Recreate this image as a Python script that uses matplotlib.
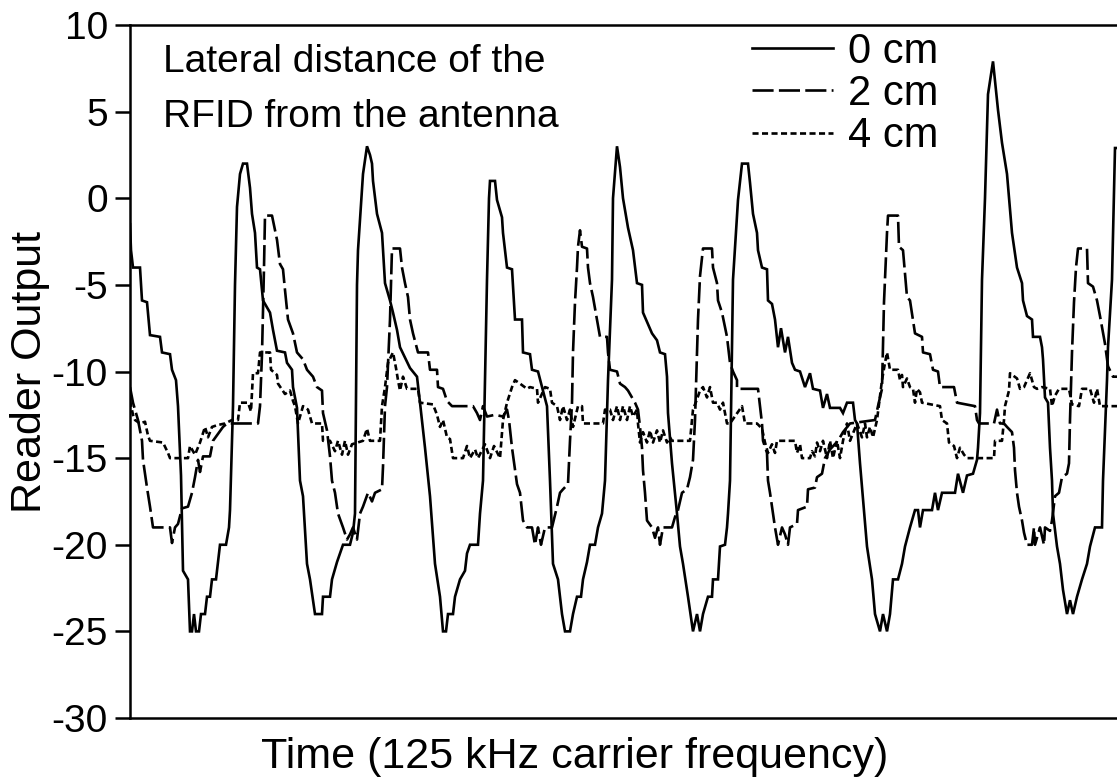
import matplotlib
matplotlib.use("Agg")
import matplotlib.pyplot as plt

plt.rcParams['font.family'] = ['Liberation Sans', 'DejaVu Sans']

# ---- data (time in samples, reader output) ----
cm0 = [(0,-1.5),(1,-3),(3,-4),(10,-4),(12,-5.9),(17,-6),(20,-7.9),(30,-8),(32,-8.9),(40,-9),(42,-9.9),(46,-10.5),(48,-12),(51,-16),(53,-21.5),(58,-22),(60,-25),(62,-25),(64,-24),(66,-25),(69,-25),(71,-24),(75,-24),(77,-23),(80,-23),(82,-22),(86,-22),(88,-21),(90,-20),(96,-20),(99,-19),(100,-18),(103,-12),(105,-5),(107,-0.5),(110,1.4),(113,2),(117,2),(120,0.6),(122,-0.9),(125,-2),(127,-4),(130,-4.1),(133,-5.9),(140,-6.6),(143,-7.6),(147,-8.8),(155,-8.9),(157,-9.5),(162,-9.9),(163,-10.9),(167,-12.1),(170,-16.3),(173,-17.2),(177,-21.1),(180,-22),(185,-24),(192,-24),(193,-23),(200,-23),(202,-22),(207,-21),(213,-20),(220,-20),(223,-19.3),(225,-18.2),(227,-5),(228,-3),(233,1.4),(237,3),(240,2.5),(242,2),(243,1),(247,-0.9),(252,-2),(255,-4.9),(260,-5.9),(263,-6.6),(267,-7.6),(270,-8.6),(275,-9.2),(280,-9.8),(287,-10.3),(290,-11.8),(295,-14.4),(300,-17.2),(305,-21.1),(310,-23),(313,-25),(316,-25),(318,-24),(323,-24),(325,-23),(330,-22),(335,-21.5),(337,-20.5),(340,-20),(348,-20),(350,-18.2),(353,-16.3),(357,-4.7),(359,0),(360,1),(365,1),(367,-0.1),(372,-1.1),(373,-2),(377,-4),(382,-4.1),(385,-7),(392,-7),(393,-8.9),(400,-9),(402,-9.9),(408,-10),(412,-10.9),(417,-12),(420,-16.3),(423,-21.1),(428,-22),(432,-24),(435,-25),(440,-25),(443,-24),(447,-23),(451,-23),(453,-22),(457,-21),(460,-20),(465,-20),(468,-19),(472,-18.2),(475,-16.3),(478,-10.5),(482,-4.7),(483,0),(487,3),(490,1.8),(493,0),(498,-1.7),(503,-3),(507,-4.9),(512,-5),(513,-6.6),(522,-7.8),(527,-8.2),(530,-8.9),(535,-9),(537,-10.3),(538,-12.4),(542,-15.3),(547,-18.2),(550,-20.1),(553,-21.1),(558,-23),(563,-25),(567,-24),(570,-25),(573,-24),(578,-23),(582,-23),(583,-22),(588,-22),(590,-20.1),(595,-20),(597,-19),(598,-18.2),(600,-16.3),(603,-4.7),(608,-0.1),(612,2),(618,2),(620,0.9),(623,-0.9),(627,-2),(628,-3),(632,-4),(637,-4.1),(638,-5.9),(642,-6.1),(645,-7),(648,-8.6),(651,-7.5),(655,-8.9),(658,-8),(662,-9.5),(665,-9.9),(670,-10),(675,-10.9),(680,-10.1),(683,-11),(690,-11.1),(693,-12.1),(697,-11.3),(700,-12.1),(710,-12.1),(713,-12.4),(717,-11.8),(723,-11.8),(725,-12.8),(727,-13),(730,-15.3),(737,-20.1),(742,-22),(745,-24),(750,-25),(753,-24),(757,-25),(760,-24),(763,-22),(768,-22),(772,-21.1),(775,-20.1),(780,-19),(785,-18),(788,-18),(790,-19),(793,-18),(802,-18),(805,-17),(808,-18),(812,-17),(825,-17),(828,-15.9),(833,-17),(837,-16),(843,-15.9),(847,-15.1),(848,-14.4),(850,-12.4),(852,-4.7),(855,0),(858,6),(863,7.9),(868,5.1),(872,3.2),(877,1.4),(882,-2),(887,-4),(892,-4.9),(893,-5.9),(897,-6.8),(902,-7),(903,-8),(910,-8),(912,-8.6),(913,-9.3),(915,-11.5),(918,-11.8),(920,-14.4),(922,-16.3),(923,-18.2),(927,-20.1),(930,-21.1),(933,-22.6),(937,-24),(940,-23.2),(943,-24),(947,-23),(952,-22),(957,-21.1),(960,-20.1),(965,-19),(972,-19),(973,-16.3),(977,-10.5),(978,-8.6),(982,-4.7),(985,2.9),(987,2.9)]

cm2 = [(0,-10.9),(3,-11.8),(8,-12.8),(12,-14),(13,-15.1),(17,-16.7),(20,-17.8),(23,-19),(40,-19),(42,-19.9),(45,-19),(48,-18.8),(52,-17.9),(58,-17.8),(62,-17),(65,-16.1),(68,-15.1),(70,-15.8),(73,-14.9),(80,-14.9),(83,-14),(88,-13.6),(93,-13.2),(97,-13),(128,-13),(130,-12),(132,-9),(134,-4),(135,-1),(142,-1),(147,-2.4),(150,-3.8),(153,-4.1),(155,-5.3),(158,-7),(163,-7.8),(167,-8.9),(173,-9.3),(177,-9.9),(183,-10.3),(187,-10.9),(192,-11.1),(193,-12.4),(197,-13.4),(200,-14.9),(202,-16.3),(205,-17),(208,-18.2),(213,-19),(217,-19.7),(220,-19.4),(223,-19),(227,-19.7),(230,-18.2),(233,-17.8),(238,-17),(242,-17.5),(245,-17),(252,-16.8),(253,-15.5),(255,-12),(257,-10.9),(260,-7),(262,-2.9),(270,-2.9),(272,-4),(275,-4.9),(278,-5.7),(280,-7),(283,-7.8),(288,-8.9),(298,-8.9),(300,-9.9),(307,-9.9),(308,-10.9),(313,-11),(317,-11.7),(322,-12),(343,-12),(347,-12.4),(350,-12.8),(353,-12),(357,-12.6),(365,-12.5),(373,-12.6),(377,-12.2),(379,-12.8),(382,-14.4),(387,-16.5),(390,-17),(393,-18.6),(397,-19),(402,-19),(405,-20),(408,-19),(411,-20),(415,-19),(422,-19),(427,-17.8),(430,-17),(433,-16.8),(438,-16.5),(440,-14),(442,-11.8),(443,-8.9),(445,-6),(447,-4),(448,-2.8),(450,-1.85),(452,-2.8),(457,-2.9),(458,-4),(460,-4.9),(463,-5.7),(467,-7),(470,-8),(477,-8),(478,-8.9),(480,-9.9),(487,-10),(490,-10.7),(495,-10.9),(498,-11.1),(502,-11.5),(505,-11.8),(508,-12.2),(510,-13.2),(512,-14.4),(513,-15.7),(515,-17),(517,-18.6),(522,-19),(525,-19.6),(528,-19),(530,-20),(533,-19),(542,-19),(545,-18.4),(548,-18),(552,-17),(557,-16.8),(560,-16.1),(563,-15.1),(565,-12.8),(567,-8.9),(568,-7),(570,-4.5),(573,-2.9),(582,-2.9),(583,-4),(587,-4.9),(588,-5.9),(592,-6.6),(597,-8),(600,-9.5),(603,-10),(607,-10.5),(607,-11),(628,-11),(632,-13),(633,-14),(637,-14.7),(638,-16.3),(640,-17),(643,-18.2),(645,-19),(648,-20),(652,-19),(655,-19.4),(658,-20),(660,-19),(667,-18.8),(668,-18),(677,-17.8),(678,-16.8),(685,-16.7),(687,-16.1),(692,-15.9),(695,-15),(700,-14.5),(708,-14),(713,-13.5),(720,-13),(745,-12.8),(748,-12),(752,-11),(754,-6),(757,-2),(758,-1),(768,-1),(769,-2.8),(773,-3),(777,-5.7),(780,-5.9),(785,-7.8),(792,-8),(793,-8.9),(800,-9),(803,-9.9),(808,-10),(810,-10.9),(824,-10.9),(827,-11.8),(845,-12),(847,-12.8),(849,-13),(864,-13),(867,-12.2),(870,-13),(874,-13),(877,-13.2),(882,-13.5),(884,-14.4),(885,-15.7),(887,-17),(889,-17.8),(892,-18.6),(894,-19.3),(897,-20),(902,-20),(904,-19),(905,-20),(910,-19),(914,-20),(915,-19),(920,-19.2),(922,-18.6),(925,-17.2),(929,-17),(932,-16.1),(937,-15.9),(939,-15.3),(940,-12.8),(942,-8.9),(944,-6),(946,-4),(948,-2.9),(957,-2.9),(958,-4.9),(963,-5.1),(967,-5.9),(970,-6.8),(975,-8.4),(978,-9.7),(983,-10.3),(987,-10.3)]

cm4 = [(0,-11.7),(3,-12.5),(5,-12.8),(10,-13),(15,-12.9),(18,-13.7),(20,-14),(33,-14.1),(38,-14.7),(40,-15),(58,-15),(60,-14.3),(65,-14.8),(70,-14.1),(75,-13.2),(78,-13.8),(82,-13.2),(87,-13.1),(95,-13),(102,-12.8),(108,-12.8),(110,-11.8),(118,-11.8),(121,-12.3),(123,-10.1),(128,-10.1),(130,-8.9),(140,-8.9),(141,-9.9),(147,-10.2),(148,-10.7),(155,-11.3),(160,-11.1),(163,-11.7),(165,-12),(168,-13),(173,-12),(178,-12.2),(182,-13),(192,-13),(193,-14),(200,-14),(205,-14.6),(208,-14),(212,-14.8),(215,-14),(218,-14.8),(222,-14.2),(233,-14),(237,-13.3),(240,-14),(250,-14),(252,-12),(255,-10.9),(258,-9.5),(263,-8.9),(266,-9.8),(268,-10.5),(270,-11.1),(273,-10.3),(277,-11),(288,-11),(290,-11.8),(303,-11.9),(307,-12.5),(310,-13.2),(313,-12.8),(317,-13.8),(320,-13.9),(323,-15),(333,-15),(337,-14.3),(340,-15),(345,-14.5),(348,-15),(355,-14.2),(360,-15),(364,-14.3),(370,-15),(373,-12.8),(377,-11.8),(382,-10.9),(385,-10.5),(390,-10.7),(397,-11),(400,-10.9),(407,-11),(408,-11.8),(415,-10.9),(420,-11),(422,-11.8),(427,-12),(430,-12.8),(433,-12),(437,-12.8),(440,-12.2),(443,-13.2),(448,-12),(452,-12),(453,-13),(473,-13),(475,-12.2),(480,-12.2),(483,-12.8),(487,-12),(490,-12.8),(493,-12),(497,-12.8),(500,-12),(503,-12.6),(507,-12.2),(508,-13),(510,-14.1),(513,-13.5),(517,-14.1),(520,-13.4),(523,-14.1),(527,-13.4),(530,-14.1),(533,-13.4),(537,-14.1),(540,-13.8),(542,-14),(560,-14),(563,-12.2),(567,-11.6),(570,-11.1),(573,-10.9),(577,-11.5),(580,-10.9),(583,-11.8),(587,-11.8),(590,-12.2),(593,-11.8),(597,-13),(600,-13),(612,-12),(615,-13),(627,-13),(632,-13.3),(635,-14.1),(638,-14.7),(642,-14.2),(645,-14.7),(647,-14),(665,-14),(667,-14.7),(670,-14.2),(672,-15),(680,-15),(682,-14.6),(685,-14.9),(687,-14.1),(690,-14.6),(693,-14),(697,-15),(700,-14),(703,-15),(707,-14),(710,-15),(713,-14),(715,-13.5),(717,-13),(720,-14),(727,-13),(732,-13.8),(735,-13),(737,-13.8),(740,-13.2),(743,-13.8),(747,-12.8),(752,-10.5),(755,-9.5),(757,-8.9),(760,-9.9),(768,-9.9),(770,-10.5),(772,-10.2),(773,-10.9),(777,-10.4),(780,-10.9),(783,-11),(785,-11.8),(787,-11),(790,-11.2),(792,-11.8),(810,-12),(812,-12.8),(817,-13),(819,-14.1),(824,-14.3),(827,-15),(830,-14.4),(834,-14.8),(837,-15),(864,-15),(865,-14),(872,-14),(874,-12.8),(875,-12),(879,-11.1),(880,-10.1),(887,-10.4),(890,-11),(894,-10.9),(900,-10.1),(904,-10.9),(907,-11),(912,-10.9),(920,-11),(922,-12),(925,-11.4),(929,-11),(939,-11),(942,-11.9),(949,-12),(952,-11),(954,-11),(960,-11),(964,-11.8),(967,-11),(970,-12),(987,-12)]

series_labels = ["0 cm", "2 cm", "4 cm"]
yticks = [-30, -25, -20, -15, -10, -5, 0, 5, 10]
xlabel = "Time (125 kHz carrier frequency)"
ylabel = "Reader Output"
note = ["Lateral distance of the", "RFID from the antenna"]

W, H = 1117, 780
fig = plt.figure(figsize=(W/100, H/100), dpi=100)
L, R, T, B = 130, 1117, 25, 718
ax = fig.add_axes([L/W, 1-B/H, (R-L)/W, (B-T)/H])

FS = 28
FS_LAB = 31
FS_LEG = 30
lw = 1.9
styles = [dict(ls='-'), dict(ls=(0, (8, 2))), dict(ls=(0, (2.3, 1.3)))]
for data, st, lab in zip([cm0, cm2, cm4], styles, series_labels):
    t = [p[0] for p in data]
    v = [p[1] for p in data]
    ax.plot(t, v, color='black', lw=lw, label=lab, solid_joinstyle='miter', **st)

ax.set_xlim(0, 987)
ax.set_ylim(-30, 10)
ax.set_yticks(yticks)
ax.set_yticklabels([str(v) for v in yticks], fontsize=FS)
ax.set_xticks([])
ax.tick_params(axis='y', direction='out', length=11, width=1.8, pad=5)
for s in ['left', 'top', 'bottom']:
    ax.spines[s].set_linewidth(1.8)
ax.spines['right'].set_visible(False)

ax.set_xlabel(xlabel, fontsize=FS_LAB)
ax.xaxis.set_label_coords((575-L)/(R-L), -0.028)
ax.set_ylabel(ylabel, fontsize=FS_LAB)
ax.yaxis.set_label_coords(-0.081, 0.5)

ax.text((163-L)/(R-L), (B-72)/(B-T), note[0], transform=ax.transAxes, fontsize=FS, va='baseline', ha='left')
ax.text((163-L)/(R-L), (B-127)/(B-T), note[1], transform=ax.transAxes, fontsize=FS, va='baseline', ha='left')

leg = ax.legend(loc='upper left', bbox_to_anchor=((752-L)/(R-L), 0.99), frameon=False,
                fontsize=FS_LEG, borderpad=0, borderaxespad=0, handlelength=1.94,
                handletextpad=0.36, labelspacing=0.05)

fig.savefig('out.png', dpi=100)
